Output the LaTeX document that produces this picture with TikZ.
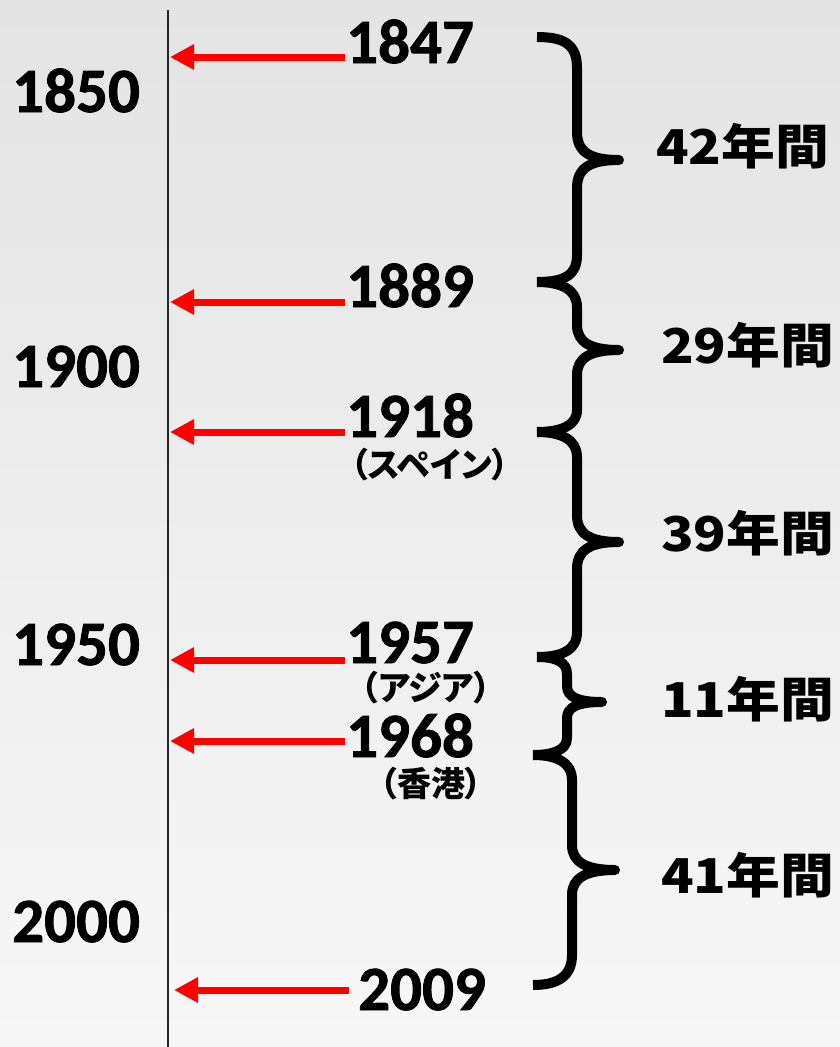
\documentclass[tikz,border=0pt]{standalone}
\usepackage{fontspec}
\setmainfont{Carlito}[BoldFeatures={FakeBold=1.3}]
\newfontfamily\jp[RawFeature=+palt]{Noto Sans CJK JP}
\usetikzlibrary{arrows.meta}
\definecolor{arred}{HTML}{FF0000}
\definecolor{bgtop}{HTML}{E4E4E4}
\definecolor{bgbot}{HTML}{F7F7F7}
\newcommand\dg[1]{\makebox[0.6em]{#1}}
\begin{document}
\begin{tikzpicture}[x=1pt,y=-1pt,
  yr/.style={font=\fontsize{63}{63}\selectfont\bfseries, inner sep=0pt, anchor=base west},
  sub/.style={font=\jp\bfseries\fontsize{34}{34}\selectfont, inner sep=0pt, anchor=base, text height=0.8em, text depth=0.05em},
  span/.style={font=\jp\bfseries\fontsize{48}{48}\selectfont, inner sep=0pt, anchor=east},
  arr/.style={draw=arred, line width=7pt, -{Triangle[length=24pt,width=24pt]}},
  brc/.style={draw=black, line width=10pt, line join=round, line cap=butt},
  axis/.style={draw=black!85, line width=1.5pt}]
\useasboundingbox (0,0) rectangle (840,1047);
\shade[top color=bgtop, bottom color=bgbot] (0,0) rectangle (840,1047);

% axis
\coordinate (axtop) at (168,10);
\coordinate (axbot) at (168,1047);
\draw[axis] (axtop) -- (axbot);

% scale years
\node[yr] (c1850) at (12,112) {1850};
\node[yr] (c1900) at (12,387) {1900};
\node[yr] (c1950) at (12,665) {1950};
\node[yr] (c2000) at (12,942) {2000};

% event years
\node[yr] (n1847) at (346,63) {1847};
\node[yr] (n1889) at (346,307) {1889};
\node[yr] (n1918) at (346,437) {1918};
\node[yr] (n1957) at (346,663) {1957};
\node[yr] (n1968) at (346,757) {1968};
\node[yr] (n2009) at (358,1010) {2009};

\node[sub] (s1918) at (430,477) {（スペイン）};
\node[sub] (s1957) at (426,700) {（アジア）};
\node[sub] (s1968) at (431,796) {（香港）};

% arrow targets on the axis
\coordinate (t1847) at (170,57);
\coordinate (t1889) at (170,302);
\coordinate (t1918) at (170,432);
\coordinate (t1957) at (170,660);
\coordinate (t1968) at (170,741);
\coordinate (t2009) at (174,990);

\draw[arr] ([xshift=-1pt]n1847.west |- t1847) -- (t1847);
\draw[arr] ([xshift=-1pt]n1889.west |- t1889) -- (t1889);
\draw[arr] ([xshift=-1pt]n1918.west |- t1918) -- (t1918);
\draw[arr] ([xshift=-1pt]n1957.west |- t1957) -- (t1957);
\draw[arr] ([xshift=-1pt]n1968.west |- t1968) -- (t1968);
\draw[arr] ([xshift=-9pt]n2009.west |- t2009) -- (t2009);

% braces
\draw[brc] (537,37) .. controls (565,37) and (577,45) .. (577,68) -- (577,132)
  .. controls (577,152) and (590,160) .. (619,160)
  .. controls (590,160) and (577,168) .. (577,188) -- (577,255)
  .. controls (577,275) and (565,282) .. (537,282);
\draw[brc] (537,282) .. controls (562,282) and (577,290) .. (577,307) -- (577,325)
  .. controls (577,342) and (590,350) .. (619,350)
  .. controls (590,350) and (577,358) .. (577,375) -- (577,410)
  .. controls (577,425) and (562,432) .. (537,432);
\draw[brc] (537,432) .. controls (562,432) and (577,440) .. (577,457) -- (577,515)
  .. controls (577,534) and (590,542) .. (619,542)
  .. controls (590,542) and (577,550) .. (577,569) -- (577,632)
  .. controls (577,650) and (562,657) .. (537,657);
\draw[brc] (537,657) .. controls (556,657) and (567,662) .. (567,674) -- (567,686)
  .. controls (567,697) and (578,702) .. (602,702)
  .. controls (578,702) and (567,707) .. (567,718) -- (567,738)
  .. controls (567,750) and (553,755) .. (533,755);
\draw[brc] (533,755) .. controls (556,755) and (572,762) .. (572,780) -- (572,845)
  .. controls (572,862) and (586,870) .. (615,870)
  .. controls (586,870) and (572,878) .. (572,895) -- (572,955)
  .. controls (572,976) and (558,985) .. (533,985);

% spans
\node[span] (p1) at (829,146) {\scalebox{1.12}[1]{\dg{4}\dg{2}年間}};
\node[span] (p2) at (834,345) {\scalebox{1.12}[1]{\dg{2}\dg{9}年間}};
\node[span] (p3) at (834,533) {\scalebox{1.12}[1]{\dg{3}\dg{9}年間}};
\node[span] (p4) at (834,699) {\scalebox{1.12}[1]{\dg{1}\dg{1}年間}};
\node[span] (p5) at (834,875) {\scalebox{1.12}[1]{\dg{4}\dg{1}年間}};
\end{tikzpicture}
\end{document}
